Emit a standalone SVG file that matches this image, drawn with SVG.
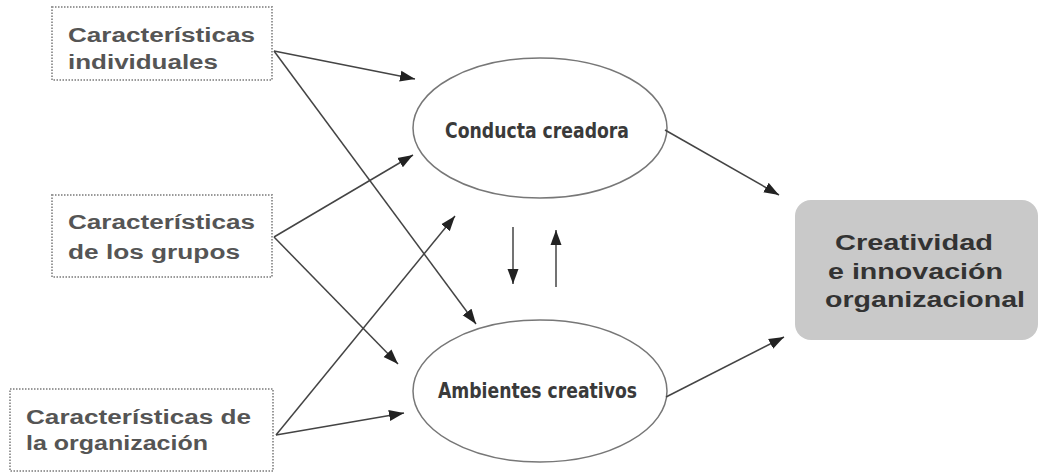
<svg xmlns="http://www.w3.org/2000/svg" width="1038" height="472" viewBox="0 0 1038 472">
<style>
.box{fill:#fff;stroke:#9a9a9a;stroke-width:2;stroke-dasharray:1.5 1.5}
.bt{font-family:"Liberation Sans",Arial,sans-serif;font-weight:bold;font-size:20px;fill:#555}
.ell{fill:#fff;stroke:#777;stroke-width:1.5}
.et{font-family:"Liberation Sans Narrow","DejaVu Sans Condensed","Liberation Sans",sans-serif;font-weight:bold;font-size:21px;fill:#3a3a3a}
.res{fill:#c9c9c9;stroke:none}
.rt{font-family:"Liberation Sans",Arial,sans-serif;font-weight:bold;font-size:22px;fill:#333}
.conn line{stroke:#444;stroke-width:1.5;marker-end:url(#ah)}
</style>
<defs>
<marker id="ah" markerUnits="userSpaceOnUse" markerWidth="16" markerHeight="12" refX="15" refY="6" orient="auto">
<path d="M0,0.5 L15,6 L0,11.5 z" fill="#222"/>
</marker>
</defs>
<rect width="1038" height="472" fill="#fff"/>
<g id="box-individuales">
<rect class="box" x="52" y="7" width="220" height="73"/>
<text class="bt" x="68" y="42" textLength="187" lengthAdjust="spacingAndGlyphs">Características</text>
<text class="bt" x="68" y="69" textLength="150" lengthAdjust="spacingAndGlyphs">individuales</text>
</g>
<g id="box-grupos">
<rect class="box" x="52" y="195" width="220" height="82"/>
<text class="bt" x="68" y="229" textLength="187" lengthAdjust="spacingAndGlyphs">Características</text>
<text class="bt" x="68" y="259" textLength="172" lengthAdjust="spacingAndGlyphs">de los grupos</text>
</g>
<g id="box-organizacion">
<rect class="box" x="10" y="389" width="263" height="82"/>
<text class="bt" x="26" y="424" textLength="225" lengthAdjust="spacingAndGlyphs">Características de</text>
<text class="bt" x="26" y="450" textLength="182" lengthAdjust="spacingAndGlyphs">la organización</text>
</g>
<g id="conducta">
<ellipse class="ell" cx="540" cy="128" rx="127" ry="70"/>
<text class="et" x="445" y="138" textLength="184" lengthAdjust="spacingAndGlyphs">Conducta creadora</text>
</g>
<g id="ambientes">
<ellipse class="ell" cx="540" cy="391" rx="127" ry="71"/>
<text class="et" x="438" y="398" textLength="199" lengthAdjust="spacingAndGlyphs">Ambientes creativos</text>
</g>
<g id="resultado">
<rect class="res" x="795" y="200" width="243" height="140" rx="16"/>
<text class="rt" x="835" y="250" textLength="158" lengthAdjust="spacingAndGlyphs">Creatividad</text>
<text class="rt" x="828" y="279" textLength="175" lengthAdjust="spacingAndGlyphs">e innovación</text>
<text class="rt" x="825" y="307" textLength="200" lengthAdjust="spacingAndGlyphs">organizacional</text>
</g>
<g id="connectors" class="conn">
<line x1="274" y1="51" x2="415" y2="79"/>
<line x1="274" y1="51" x2="476" y2="324"/>
<line x1="274" y1="237" x2="413" y2="155"/>
<line x1="274" y1="237" x2="398" y2="364"/>
<line x1="276" y1="435" x2="455" y2="216"/>
<line x1="276" y1="435" x2="404" y2="413"/>
<line x1="665" y1="130" x2="779" y2="195"/>
<line x1="666" y1="397" x2="784" y2="337"/>
<line x1="513" y1="227" x2="513" y2="284"/>
<line x1="556" y1="287" x2="556" y2="230"/>
</g>
</svg>
